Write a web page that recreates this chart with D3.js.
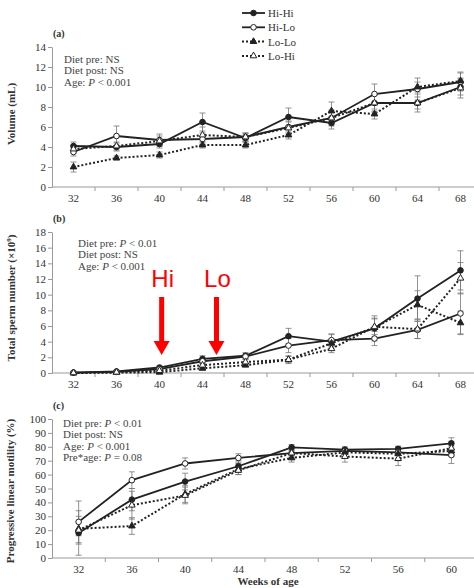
<!DOCTYPE html>
<html>
<head>
<meta charset="utf-8">
<script src="https://cdn.jsdelivr.net/npm/d3@7"></script>
<style>
  body { margin: 0; background: #fff; }
  svg text { font-family: "Liberation Serif", "Times New Roman", serif; }
</style>
</head>
<body>
<div id="chart"></div>
<script>
// weeks on the x axis
var weeksAB = ["32","36","40","44","48","52","56","60","64","68"];
var weeksC = ["32","36","40","44","48","52","56","60"];

var groups = ["Hi-Hi","Hi-Lo","Lo-Lo","Lo-Hi"];

// (a) semen volume, mL
var volHiHi = [4.1,4.0,4.3,6.5,4.9,7.0,6.4,8.4,8.4,10.0];
var volHiLo = [3.5,5.1,4.7,4.8,5.0,6.0,6.9,9.3,9.8,10.5];
var volLoLo = [2.0,2.9,3.2,4.2,4.2,5.2,7.6,7.3,10.0,10.6];
var volLoHi = [3.8,4.1,4.6,5.2,5.0,5.9,6.9,8.4,8.4,9.9];
var volSeHiHi = [0.4,0.4,0.4,0.9,0.4,0.9,0.6,0.8,0.6,0.8];
var volSeHiLo = [0.4,1.0,0.6,0.6,0.4,0.6,0.7,1.0,1.1,0.9];
var volSeLoLo = [0.5,0.2,0.3,0.3,0.3,0.4,0.9,0.5,0.5,0.9];
var volSeLoHi = [0.4,0.4,0.5,0.8,0.4,0.6,0.8,0.9,0.9,1.0];

// (b) total sperm number, x10^9
var spHiHi = [0.05,0.2,0.7,1.8,2.2,4.7,4.0,5.7,9.5,13.1];
var spHiLo = [0.05,0.15,0.5,1.5,2.1,3.5,4.2,4.4,5.5,7.6];
var spLoLo = [0.0,0.05,0.1,0.6,1.0,1.7,3.8,5.8,8.7,6.4];
var spLoHi = [0.02,0.1,0.3,1.0,1.4,1.7,3.1,5.9,5.6,12.1];
var spSeHiHi = [0.05,0.1,0.2,0.4,0.4,1.0,0.9,1.6,2.9,2.5];
var spSeHiLo = [0.05,0.1,0.2,0.3,0.3,0.9,0.8,0.9,1.1,2.6];
var spSeLoLo = [0.02,0.05,0.1,0.2,0.2,0.5,0.5,1.2,1.8,1.5];
var spSeLoHi = [0.02,0.05,0.1,0.2,0.3,0.4,0.5,1.0,1.2,2.0];

// (c) progressive linear motility, %
var motHiHi = [18,42,55,66,79.6,78,78.5,82.5];
var motHiLo = [26,56,68,72,75.5,77,76,74];
var motLoLo = [21,23,46,64,72,76,75,77];
var motLoHi = [20,38,45,63,75.5,73,71.5,79];
var motSeHiHi = [16,8,6,4,2,2,2,4];
var motSeHiLo = [15,6,4,3,2,2,2,6];
var motSeLoLo = [5,6,6,4,3,3,5,4];
var motSeLoHi = [10,10,6,3,3,4,5,5];

var yTicksA = [0,2,4,6,8,10,12,14];
var yTicksB = [0,2,4,6,8,10,12,14,16,18];
var yTicksC = [0,10,20,30,40,50,60,70,80,90,100];

var statsA = [["Diet pre: ", "NS"], ["Diet post: ", "NS"], ["Age:  ", "P", " < 0.001"]];
var statsB = [["Diet pre: ", "P", " < 0.01"], ["Diet post: ", "NS"], ["Age: ", "P", " < 0.001"]];
var statsC = [["Diet pre: ", "P", " < 0.01"], ["Diet post: ", "NS"], ["Age: ", "P", " < 0.001"], ["Pre*age: ", "P", " = 0.08"]];

// diet switch markers (week of age)
var arrowLabels = ["Hi","Lo"];
var arrowWeeks = [40.2, 45.3];

var ink = "#222";
var styles = {
  "Hi-Hi": {dash: null, shape: "circle", fill: ink},
  "Hi-Lo": {dash: null, shape: "circle", fill: "#fff"},
  "Lo-Lo": {dash: "2,2", shape: "triangle", fill: ink},
  "Lo-Hi": {dash: "2,2", shape: "triangle", fill: "#fff"}
};

var svg = d3.select("#chart").append("svg")
  .attr("width", 474).attr("height", 588);

function marker(g, shape, fill, cx, cy) {
  if (shape == "circle") {
    g.append("circle").attr("cx", cx).attr("cy", cy).attr("r", 2.8)
      .attr("fill", fill).attr("stroke", ink).attr("stroke-width", 1);
  } else {
    g.append("path").attr("d", d3.symbol().type(d3.symbolTriangle).size(19))
      .attr("transform", "translate(" + cx + "," + cy + ")")
      .attr("fill", fill).attr("stroke", ink).attr("stroke-width", 1);
  }
}

function drawPanel(p) {
  var x = d3.scaleBand().domain(p.weeks).range(p.xRange);
  var y = d3.scaleLinear().domain([0, p.yMax]).range(p.yRange);
  var g = svg.append("g");
  var xc = function(w) { return x(w) + x.bandwidth() / 2; };

  // y axis
  var yAxis = d3.axisLeft(y).tickValues(p.yTicks).tickSize(4).tickSizeOuter(0);
  var ya = g.append("g").attr("transform", "translate(" + p.xRange[0] + ",0)").call(yAxis);
  ya.select(".domain").attr("stroke", "#999");
  ya.selectAll(".tick line").attr("stroke", "#999");
  ya.selectAll(".tick text").attr("font-size", 11).attr("fill", "#333")
    .attr("font-family", "Liberation Serif").attr("x", -6);

  // x axis: ticks sit between categories
  var xa = g.append("g").attr("transform", "translate(0," + p.yRange[0] + ")");
  xa.append("line").attr("x1", p.xRange[0]).attr("x2", p.xRange[1])
    .attr("stroke", "#999");
  var bounds = p.weeks.map(function(w) { return x(w); }).slice(1);
  xa.selectAll(".xt").data(bounds).enter().append("line")
    .attr("x1", function(d) { return d; }).attr("x2", function(d) { return d; })
    .attr("y1", 0).attr("y2", 4).attr("stroke", "#999");
  xa.selectAll(".xl").data(p.weeks).enter().append("text")
    .attr("x", function(d) { return xc(d); }).attr("y", 15)
    .attr("text-anchor", "middle").attr("font-size", 11).attr("fill", "#333")
    .text(function(d) { return d; });

  // y title
  g.append("text")
    .attr("transform", "translate(" + p.titleX + "," + p.titleY + ") rotate(-90)")
    .attr("text-anchor", "middle").attr("font-size", 11).attr("font-weight", "bold")
    .attr("fill", "#333").html(p.title);

  // panel letter
  g.append("text").attr("x", 53).attr("y", p.yRange[1] - 10)
    .attr("font-size", 10).attr("font-weight", "bold").attr("fill", "#333").text(p.letter);

  // stats lines
  p.stats.forEach(function(s, i) {
    var t = g.append("text").attr("x", p.statsX).attr("y", p.statsY + i * 11.3)
      .attr("font-size", 11).attr("fill", "#444");
    s.forEach(function(part) {
      t.append("tspan").attr("font-style", part == "P" ? "italic" : null).text(part);
    });
  });

  // series
  groups.forEach(function(name, k) {
    var vals = p.values[k], se = p.se[k], st = styles[name];
    var pts = p.weeks.map(function(w, i) { return [xc(w), y(vals[i]), y(vals[i] + se[i]), y(Math.max(0, vals[i] - se[i]))]; });
    var eb = g.append("g");
    pts.forEach(function(q) {
      eb.append("line").attr("x1", q[0]).attr("x2", q[0]).attr("y1", q[2]).attr("y2", q[3])
        .attr("stroke", "#777").attr("stroke-width", 0.8);
      [q[2], q[3]].forEach(function(yy) {
        eb.append("line").attr("x1", q[0] - 3).attr("x2", q[0] + 3).attr("y1", yy).attr("y2", yy)
          .attr("stroke", "#777").attr("stroke-width", 0.8);
      });
    });
    g.append("path").datum(pts)
      .attr("d", d3.line().x(function(d) { return d[0]; }).y(function(d) { return d[1]; }))
      .attr("fill", "none").attr("stroke", ink)
      .attr("stroke-width", st.dash ? 2 : 1.8)
      .attr("stroke-dasharray", st.dash);
  });
  groups.forEach(function(name, k) {
    var st = styles[name];
    p.weeks.forEach(function(w, i) { marker(g, st.shape, st.fill, xc(w), y(p.values[k][i])); });
  });

  return {x: x, y: y, xc: xc};
}

var pa = drawPanel({
  weeks: weeksAB, xRange: [52, 482], yRange: [187, 47], yMax: 14, yTicks: yTicksA,
  values: [volHiHi, volHiLo, volLoLo, volLoHi], se: [volSeHiHi, volSeHiLo, volSeLoLo, volSeLoHi],
  title: "Volume (mL)", titleX: 15, titleY: 114, letter: "(a)",
  stats: statsA, statsX: 64, statsY: 63
});

var pb = drawPanel({
  weeks: weeksAB, xRange: [52, 482], yRange: [373, 232], yMax: 18, yTicks: yTicksB,
  values: [spHiHi, spHiLo, spLoLo, spLoHi], se: [spSeHiHi, spSeHiLo, spSeLoLo, spSeLoHi],
  title: "Total sperm number (×10<tspan dy='-4' font-size='7'>9</tspan><tspan dy='4'>)</tspan>",
  titleX: 15, titleY: 298, letter: "(b)",
  stats: statsB, statsX: 78, statsY: 247
});

var pc = drawPanel({
  weeks: weeksC, xRange: [52, 478], yRange: [558, 419], yMax: 100, yTicks: yTicksC,
  values: [motHiHi, motHiLo, motLoLo, motLoHi], se: [motSeHiHi, motSeHiLo, motSeLoLo, motSeLoHi],
  title: "Progressive linear motility (%)", titleX: 14, titleY: 491, letter: "(c)",
  stats: statsC, statsX: 63, statsY: 427
});

svg.append("text").attr("x", 268).attr("y", 585).attr("text-anchor", "middle")
  .attr("font-size", 11).attr("font-weight", "bold").attr("fill", "#333").text("Weeks of age");

// legend
groups.forEach(function(name, i) {
  var st = styles[name], ly = 13 + i * 14.3;
  var lg = svg.append("g");
  lg.append("line").attr("x1", 242).attr("x2", 265).attr("y1", ly).attr("y2", ly)
    .attr("stroke", ink).attr("stroke-width", st.dash ? 2 : 1.8).attr("stroke-dasharray", st.dash);
  marker(lg, st.shape, st.fill, 253.5, ly);
  lg.append("text").attr("x", 268).attr("y", ly + 4).attr("font-size", 11)
    .attr("fill", "#333").text(name);
});

// red arrows in panel b: week positions interpolated between band centres
var wk = d3.scaleLinear().domain([32, 68]).range([pb.xc("32"), pb.xc("68")]);
arrowWeeks.forEach(function(w, i) {
  var ax = wk(w);
  svg.append("text").attr("x", ax + 1).attr("y", 287).attr("text-anchor", "middle")
    .attr("font-size", 24).attr("fill", "#ff0000")
    .style("font-family", "Liberation Sans, Arial, sans-serif")
    .text(arrowLabels[i]);
  svg.append("line").attr("x1", ax).attr("x2", ax).attr("y1", 297).attr("y2", 344)
    .attr("stroke", "#ff0000").attr("stroke-width", 5);
  svg.append("path")
    .attr("d", "M" + (ax - 8) + ",341 L" + (ax + 8) + ",341 L" + ax + ",355 Z")
    .attr("fill", "#ff0000");
});
</script>
</body>
</html>
